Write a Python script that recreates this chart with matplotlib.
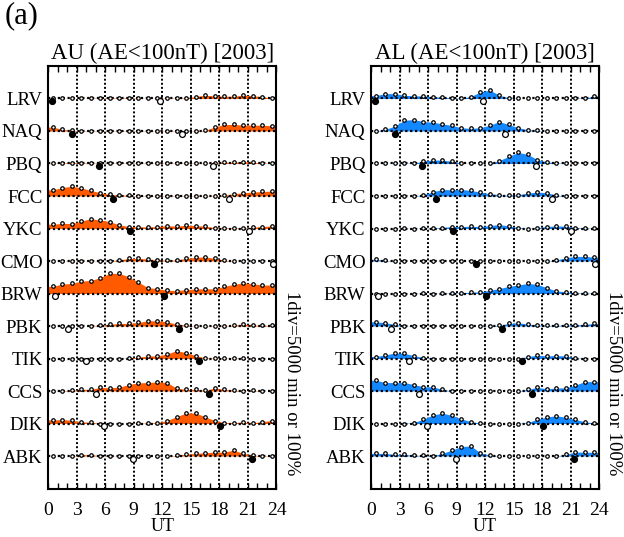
import numpy as np
import matplotlib
matplotlib.use("Agg")
import matplotlib.pyplot as plt

plt.rcParams['font.family'] = 'serif'
plt.rcParams['font.serif'] = ['Liberation Serif', 'DejaVu Serif']

# stations, top to bottom
stations = ["LRV", "NAQ", "PBQ", "FCC", "YKC", "CMO",
            "BRW", "PBK", "TIK", "CCS", "DIK", "ABK"]
ut = np.arange(0.5, 24, 1.0)

# AU occurrence, % of one division (1div = 5000 min or 100%)
au_lrv = [0, 0, 1, 0, 1, 1, 2, 1, 2, 1, 0, 1, 1, 1, 2, 6, 10, 8, 7, 7, 10, 9, 5, 2]
au_naq = [12, 5, 2, 1, 1, 1, 1, 1, 1, 1, 1, 1, 1, 1, 1, 1, 2, 12, 20, 20, 18, 18, 18, 16]
au_pbq = [1, 1, 3, 2, 1, 1, 1, 1, 1, 1, 1, 1, 1, 1, 1, 1, 1, 1, 4, 4, 6, 4, 1, 1]
au_fcc = [19, 26, 30, 25, 17, 10, 5, 3, 2, 1, 1, 1, 1, 1, 1, 1, 1, 1, 2, 7, 10, 12, 14, 15]
au_ykc = [13, 16, 15, 23, 30, 26, 21, 11, 6, 5, 5, 6, 9, 7, 10, 9, 7, 3, 2, 2, 1, 4, 6, 8]
au_cmo = [0, 0, 1, 0, 1, 0, 1, 3, 8, 8, 6, 3, 3, 3, 8, 11, 13, 8, 3, 0, 0, 0, 0, 0]
au_brw = [22, 29, 31, 38, 40, 49, 62, 62, 51, 35, 18, 15, 10, 9, 12, 14, 15, 14, 22, 28, 33, 30, 26, 26]
au_pbk = [0, 0, 0, 0, 0, 3, 5, 8, 8, 11, 16, 16, 13, 6, 3, 0, 1, 1, 1, 2, 6, 3, 2, 2]
au_tik = [0, 0, 0, 0, 0, 0, 0, 0, 1, 4, 8, 8, 14, 24, 18, 9, 2, 1, 1, 1, 1, 0, 0, 0]
au_ccs = [0, 1, 2, 5, 5, 11, 10, 12, 20, 25, 26, 28, 26, 9, 5, 5, 2, 9, 5, 3, 0, 2, 0, 0]
au_dik = [11, 12, 10, 5, 4, 0, 0, 0, 0, 1, 1, 3, 9, 21, 32, 32, 21, 9, 3, 3, 4, 2, 6, 9]
au_abk = [0, 0, 0, 4, 4, 1, 1, 0, 0, 0, 0, 0, 0, 2, 6, 8, 10, 12, 12, 18, 8, 3, 1, 1]

# AL occurrence
al_lrv = [9, 15, 15, 10, 8, 8, 5, 4, 2, 1, 6, 20, 26, 10, 2, 0, 0, 0, 0, 0, 0, 1, 1, 8]
al_naq = [0, 5, 15, 33, 35, 29, 27, 22, 17, 10, 8, 10, 18, 29, 20, 10, 4, 2, 0, 0, 0, 0, 0, 0]
al_pbq = [0, 0, 1, 1, 1, 7, 11, 10, 7, 1, 0, 0, 0, 9, 22, 34, 28, 12, 5, 2, 0, 0, 0, 0]
al_fcc = [0, 0, 0, 0, 0, 3, 13, 20, 19, 20, 17, 12, 7, 4, 2, 4, 9, 12, 10, 3, 0, 0, 0, 0]
al_ykc = [0, 0, 0, 1, 0, 1, 1, 3, 6, 6, 7, 6, 9, 12, 8, 3, 0, 2, 6, 8, 7, 3, 1, 1]
al_cmo = [5, 2, 0, 0, 0, 0, 0, 0, 0, 0, 0, 0, 0, 0, 0, 0, 0, 0, 0, 3, 10, 14, 14, 12]
al_brw = [0, 0, 0, 0, 0, 1, 0, 1, 1, 2, 4, 5, 10, 15, 22, 26, 31, 28, 18, 8, 5, 2, 1, 1]
al_pbk = [13, 10, 5, 1, 0, 0, 0, 0, 0, 0, 0, 0, 1, 2, 8, 10, 6, 3, 2, 2, 3, 3, 5, 8]
al_tik = [6, 11, 17, 16, 9, 3, 0, 0, 0, 0, 0, 0, 0, 0, 0, 0, 6, 10, 8, 9, 8, 2, 0, 0]
al_ccs = [33, 26, 26, 26, 20, 13, 13, 5, 0, 0, 0, 0, 0, 0, 0, 0, 5, 11, 7, 9, 10, 18, 29, 29]
al_dik = [0, 0, 0, 0, 3, 13, 26, 32, 25, 14, 6, 1, 0, 0, 0, 0, 3, 13, 20, 24, 19, 13, 5, 2]
al_abk = [8, 8, 5, 5, 2, 2, 1, 8, 18, 29, 31, 10, 3, 0, 0, 0, 0, 0, 0, 0, 5, 12, 12, 11]

# local midnight (filled) and noon (open) in UT for each station
black_ut = [0.4, 2.5, 5.35, 6.8, 8.6, 11.1, 12.15, 13.75, 15.85, 16.95, 18.05, 21.4]
open_ut = [11.8, 14.1, 17.35, 19.05, 21.1, 23.6, 0.7, 2.15, 4.0, 5.0, 5.9, 8.9]

au_rows = [au_lrv, au_naq, au_pbq, au_fcc, au_ykc, au_cmo,
           au_brw, au_pbk, au_tik, au_ccs, au_dik, au_abk]
al_rows = [al_lrv, al_naq, al_pbq, al_fcc, al_ykc, al_cmo,
           al_brw, al_pbk, al_tik, al_ccs, al_dik, al_abk]

au_color = "#ff5a00"
al_color = "#1488ff"


def draw_panel(ax, rows, color, title):
	n = len(stations)
	for x in range(3, 24, 3):
		ax.axvline(x, color='k', lw=1.4, ls=(0, (1, 1.1)), zorder=1)
	for i, vals in enumerate(rows):
		base = n - i
		v = np.array(vals) / 100.0
		# hold the end values out to the frame
		xs = np.r_[0, ut, 24]
		ys = np.r_[v[0], v, v[-1]]
		ax.fill_between(xs, base, base + ys, color=color, lw=0, zorder=2)
		ax.axhline(base, color='k', lw=1.6, ls=(0, (1, 1.2)), zorder=3)
		ax.plot(ut, base + v, 'o', ms=2.5, mfc='white', mec='k', mew=0.9, zorder=4)
		ax.plot(black_ut[i], base - 0.08, 'o', ms=4.2, color='k', zorder=5, clip_on=False)
		ax.plot(open_ut[i], base - 0.08, 'o', ms=4.2, mfc='white', mec='k', mew=0.9,
		        zorder=5, clip_on=False)

	ax.set_xlim(0, 24)
	ax.set_ylim(0, 13)
	ax.set_yticks(range(n, 0, -1))
	ax.set_yticklabels(stations, fontsize=13.5)
	ax.tick_params(axis='y', length=0, pad=4)
	ax.set_xticks(range(0, 25, 3))
	ax.set_xticks(range(0, 25), minor=True)
	ax.tick_params(axis='x', which='both', direction='in', top=True, length=4, width=1,
	               labelsize=14, pad=10)
	ax.set_xlabel('UT', fontsize=13, labelpad=-1)
	ax.set_title(title, fontsize=16.5, pad=5)
	for s in ax.spines.values():
		s.set_linewidth(1.5)
	ax.text(1.065, 0.25, '1div=5000 min or 100%', transform=ax.transAxes,
	        rotation=270, fontsize=13.5, ha='center', va='center')


fig = plt.figure(figsize=(6.24, 5.37), dpi=100)
ax1 = fig.add_axes([0.0769, 0.0903, 0.3662, 0.7868])
ax2 = fig.add_axes([0.5946, 0.0903, 0.3654, 0.7868])

draw_panel(ax1, au_rows, au_color, 'AU (AE<100nT) [2003]')
draw_panel(ax2, al_rows, al_color, 'AL (AE<100nT) [2003]')

fig.text(0.008, 0.998, '(a)', fontsize=22, va='top', ha='left')

fig.savefig('out.png', dpi=100)
